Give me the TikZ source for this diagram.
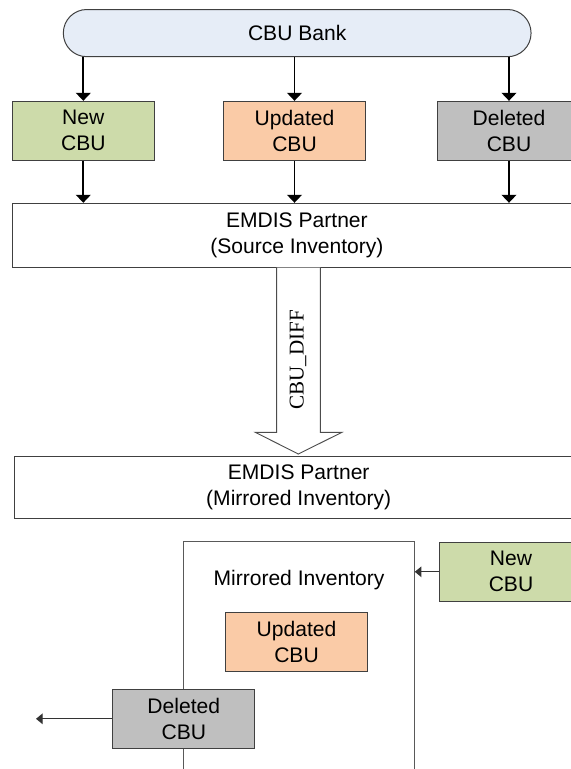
\documentclass[tikz,border=0pt]{standalone}
\usepackage{fontspec}
\setmainfont{Liberation Sans}
\newfontfamily\timesfont{Liberation Serif}
\usetikzlibrary{arrows.meta,calc}
\definecolor{bankfill}{HTML}{E6EDF7}
\definecolor{newfill}{HTML}{CDDBAA}
\definecolor{updfill}{HTML}{FACBA7}
\definecolor{delfill}{HTML}{BFBFBF}
\definecolor{edge}{HTML}{404040}
\tikzset{
  box/.style={draw=edge, line width=0.75pt, rectangle, align=center, inner sep=0pt,
    font=\fontsize{15.8}{19.5}\selectfont, text=black},
  cbubox/.style={box, minimum width=106.7pt, minimum height=44.2pt},
  bigarrow/.style={draw=black, line width=1.4pt, -{Triangle[width=11pt,length=6pt]}},
  smallarrow/.style={draw=black!80, line width=0.8pt, -{Triangle[width=8pt,length=5pt]}},
  hollow/.style={draw=black!70, line width=0.7pt, fill=white},
  lbl/.style={font=\fontsize{15.8}{19.5}\selectfont, inner sep=0pt}
}
\begin{document}
\begin{tikzpicture}[x=0.75pt,y=-0.75pt]
\useasboundingbox (0,0) rectangle (571,769);
\clip (0,0) rectangle (571,769);
% top bank
\node[box, fill=bankfill, minimum width=350.8pt, minimum height=35.4pt, rounded corners=17.6pt] (bank) at (297.2,33.1) {CBU Bank};
% top row
\node[cbubox, fill=newfill] (new1) at (83.3,130.8) {New\\CBU};
\node[cbubox, fill=updfill] (upd1) at (294.5,130.8) {Updated\\CBU};
\node[cbubox, fill=delfill] (del1) at (509,130.8) {Deleted\\CBU};
% source inventory
\node[box, fill=white, minimum width=426.2pt, minimum height=48.3pt] (src) at (296.9,235.5) {EMDIS Partner\\(Source Inventory)};
% mirrored inventory
\node[box, fill=white, minimum width=426.5pt, minimum height=46.2pt] (mir) at (298.7,487.5) {EMDIS Partner\\(Mirrored Inventory)};
% arrows
\draw[bigarrow] (new1.north |- bank.south) -- (new1.north);
\draw[bigarrow] (upd1.north |- bank.south) -- (upd1.north);
\draw[bigarrow] (del1.north |- bank.south) -- (del1.north);
\draw[bigarrow] (new1.south) -- (new1.south |- src.north);
\draw[bigarrow] (upd1.south) -- (upd1.south |- src.north);
\draw[bigarrow] (del1.south) -- (del1.south |- src.north);
% hollow arrow
\coordinate (tip) at (298.3,454);
\draw[hollow] (276.7,267.7) -- (276.7,432.3) -- (255.3,432.3) -- (tip) -- (342,432.3) -- (320.3,432.3) -- (320.3,267.7);
\node[lbl, font=\timesfont\fontsize{15.8}{19}\selectfont, rotate=90] (diff) at (298,360) {CBU\_DIFF};
% bottom big box
\node[box, draw=black!65, fill=white, minimum width=173.25pt, minimum height=186pt] (big) at (298.8,665.7) {};
\node[lbl] (mirlbl) at (299,580) {Mirrored Inventory};
\node[cbubox, fill=updfill] (upd2) at (296.5,642.3) {Updated\\CBU};
\node[cbubox, fill=delfill] (del2) at (183.8,718.8) {Deleted\\CBU};
\node[cbubox, fill=newfill] (new2) at (511,571.8) {New\\CBU};
\coordinate (out) at (36,718.8);
\draw[smallarrow] (del2.west) -- (out);
\draw[smallarrow] (new2.west) -- (new2.west -| big.east);
\end{tikzpicture}
\end{document}
